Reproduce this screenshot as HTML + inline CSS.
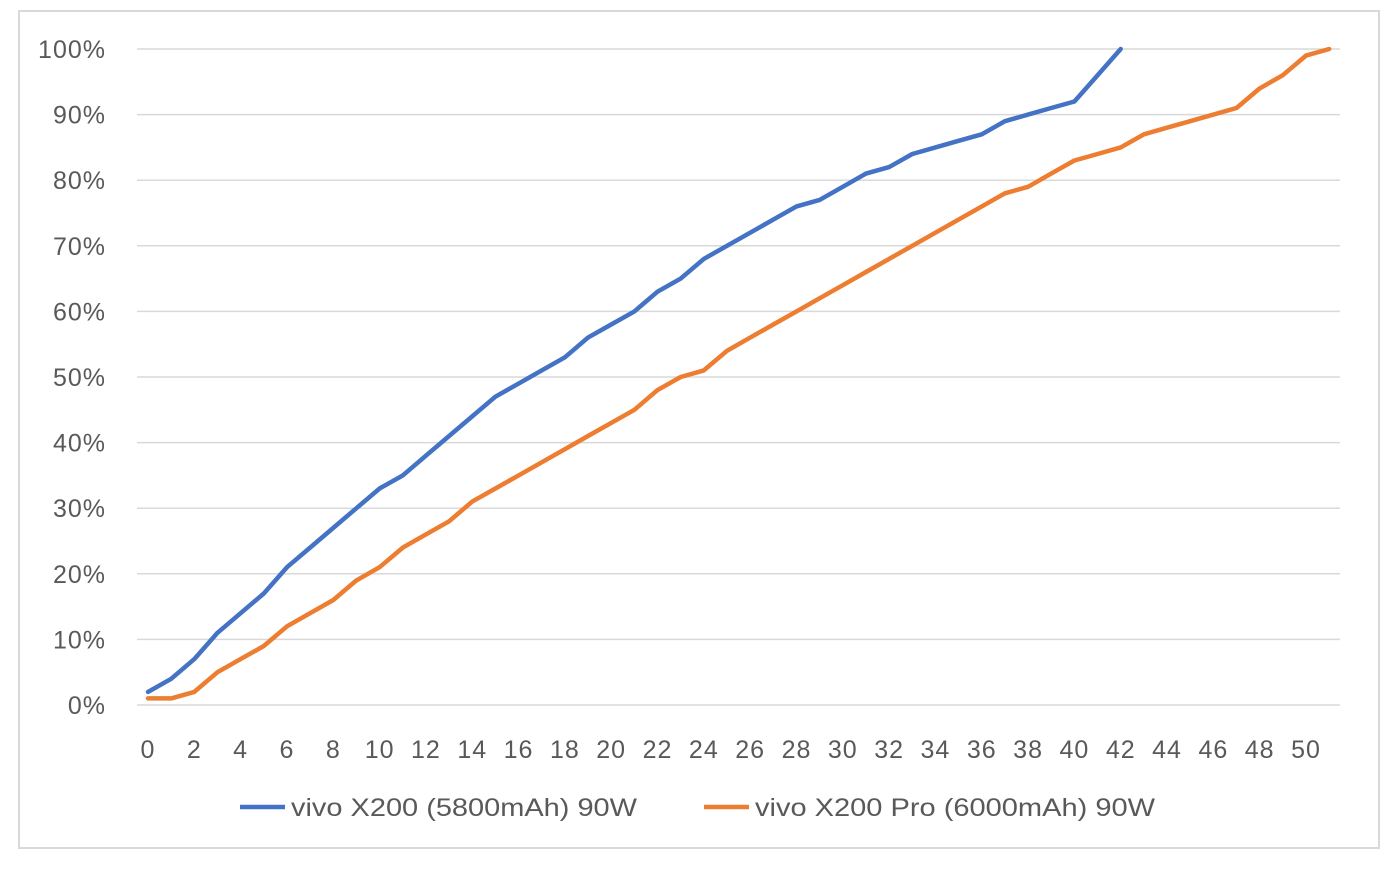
<!DOCTYPE html>
<html><head><meta charset="utf-8"><style>
body{margin:0;background:#fff;width:1392px;height:868px;overflow:hidden}
svg text{font-family:"Liberation Sans",sans-serif;fill:#595959}
</style></head><body>
<svg id="s" width="1392" height="868" xmlns="http://www.w3.org/2000/svg">
<rect x="19" y="11" width="1360" height="837" fill="#fff" stroke="#d9d9d9" stroke-width="2"/>
<g id="grid"></g>
<path id="o" fill="none" stroke="#ed7d31" stroke-width="4.5" stroke-linejoin="round" stroke-linecap="round"/>
<path id="b" fill="none" stroke="#4472c4" stroke-width="4.5" stroke-linejoin="round" stroke-linecap="round"/>
<line x1="240" y1="807" x2="285" y2="807" stroke="#4472c4" stroke-width="4.5"/>
<text x="291" y="816" font-size="25" textLength="346" lengthAdjust="spacingAndGlyphs">vivo X200 (5800mAh) 90W</text>
<line x1="704" y1="807" x2="749" y2="807" stroke="#ed7d31" stroke-width="4.5"/>
<text x="755" y="816" font-size="25" textLength="400" lengthAdjust="spacingAndGlyphs">vivo X200 Pro (6000mAh) 90W</text>
</svg>
<script>
var B=[2,4,7,11,14,17,21,24,27,30,33,35,38,41,44,47,49,51,53,56,58,60,63,65,68,70,72,74,76,77,79,81,82,84,85,86,87,89,90,91,92,96,100];
var O=[1,1,2,5,7,9,12,14,16,19,21,24,26,28,31,33,35,37,39,41,43,45,48,50,51,54,56,58,60,62,64,66,68,70,72,74,76,78,79,81,83,84,85,87,88,89,90,91,94,96,99,100];
function X(i){return 148+i*23.16}function Y(v){return 705-v*6.56}
function p(a){return a.map(function(v,i){return (i?'L':'M')+X(i).toFixed(1)+' '+Y(v).toFixed(1)}).join('')}
document.getElementById('b').setAttribute('d',p(B));
document.getElementById('o').setAttribute('d',p(O));
var g='';
for(var k=0;k<=10;k++){var y=Y(k*10);g+='<line x1="137" x2="1340" y1="'+y+'" y2="'+y+'" stroke="#d9d9d9" stroke-width="1.5"/>';
g+='<text x="106" y="'+(y+9)+'" font-size="25" letter-spacing="1" text-anchor="end">'+(k*10)+'%</text>';}
for(var i=0;i<=50;i+=2){g+='<text x="'+X(i)+'" y="758" font-size="25" letter-spacing="1" text-anchor="middle">'+i+'</text>';}
document.getElementById('grid').innerHTML=g;
</script>
</body></html>
